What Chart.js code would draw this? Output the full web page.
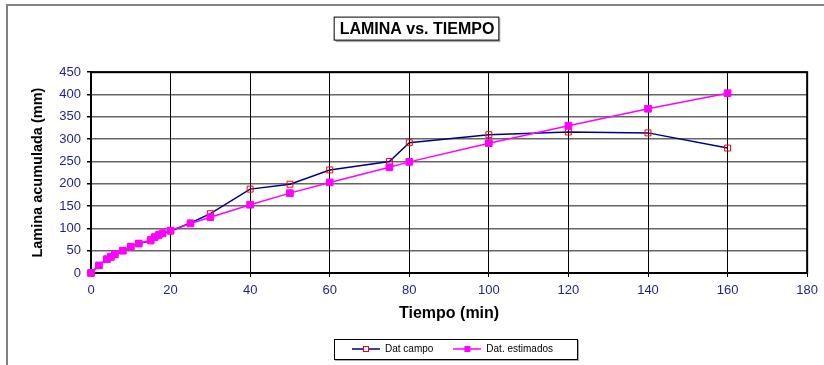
<!DOCTYPE html>
<html>
<head>
<meta charset="utf-8">
<script src="https://cdn.jsdelivr.net/npm/chart.js@4/dist/chart.umd.min.js"></script>
<style>
  html, body { margin: 0; padding: 0; background: #fff; }
  #grafico { display: block; }
</style>
</head>
<body>
<canvas id="grafico" width="824" height="365"></canvas>
<script>
// Datos
const tiempo = [0, 2, 4, 5, 6, 8, 10, 12, 15, 16, 17, 18, 20, 25, 30, 40, 50, 60, 75, 80, 100, 120, 140, 160];
const laminaCampo = [0, 17, 31, 36, 42, 50, 59, 66, 72, 81, 85, 89, 94, 112, 133, 188, 199, 231, 250, 292, 310, 316, 314, 280];
const laminaEstimada = [0, 17, 31, 36, 42, 50, 59, 66, 74, 80, 85, 89, 95, 111, 125, 153, 179, 203, 237, 249, 291, 330, 368, 403];
const ticksX = [0, 20, 40, 60, 80, 100, 120, 140, 160, 180];
const ticksY = [0, 50, 100, 150, 200, 250, 300, 350, 400, 450];

const azul = '#000080';
const rojo = '#ff0000';
const magenta = '#ff00ff';
const textoEje = '#1f1f8c';
const fuente = '"Liberation Sans", Arial, sans-serif';

// desplazamiento de la leyenda respecto al centro
const dxLeyenda = 34;
const dyLeyenda = -1;

// muestra de leyenda: linea con el marcador al centro
function muestraLeyenda(colorLinea, colorBorde, relleno) {
    const c = document.createElement('canvas');
    c.width = 28; c.height = 10;
    const g = c.getContext('2d');
    g.strokeStyle = colorLinea;
    g.lineWidth = 1.5;
    g.beginPath(); g.moveTo(0, 5); g.lineTo(28, 5); g.stroke();
    g.fillStyle = relleno;
    g.fillRect(11, 2, 6, 6);
    g.strokeStyle = colorBorde;
    g.lineWidth = 1;
    g.strokeRect(11.5, 2.5, 5, 5);
    return c;
}

// mueve la leyenda a su sitio
const moverLeyenda = {
    id: 'moverLeyenda',
    afterLayout(chart) {
        const l = chart.legend;
        l.left += dxLeyenda; l.right += dxLeyenda;
        l.top += dyLeyenda; l.bottom += dyLeyenda;
    }
};

// marco del area de trazado, antes de los puntos
const marcoArea = {
    id: 'marcoArea',
    beforeDatasetsDraw(chart) {
        const ctx = chart.ctx;
        const a = chart.chartArea;
        ctx.save();
        ctx.strokeStyle = '#000';
        ctx.lineWidth = 2;
        ctx.strokeRect(a.left, a.top, a.right - a.left, a.bottom - a.top);
        ctx.restore();
    }
};

const marcos = {
    id: 'marcos',
    afterDraw(chart) {
        const ctx = chart.ctx;
        ctx.save();
        // marco exterior gris
        ctx.strokeStyle = '#808080';
        ctx.lineWidth = 2;
        ctx.beginPath();
        ctx.moveTo(7, 370); ctx.lineTo(7, 5); ctx.lineTo(830, 5);
        ctx.stroke();
        // caja del titulo
        const t = chart.titleBlock;
        const texto = chart.options.plugins.title.text;
        ctx.font = 'bold 16px ' + fuente;
        const w = ctx.measureText(texto).width;
        const cx = chart.width / 2 + 5;
        const cy = t.top + t.options.padding.top + 9.6;
        ctx.fillStyle = '#aaa';
        ctx.fillRect(cx - w / 2 - 4, cy - 10.5, w + 10, 24);
        ctx.fillStyle = '#fff';
        ctx.fillRect(cx - w / 2 - 5, cy - 11.5, w + 10, 23);
        ctx.strokeStyle = '#000';
        ctx.lineWidth = 1;
        ctx.strokeRect(cx - w / 2 - 5.5, cy - 11.5, w + 10, 23);
        ctx.fillStyle = '#000';
        ctx.textAlign = 'center';
        ctx.textBaseline = 'middle';
        ctx.fillText(texto, cx, cy + 1);
        // caja de la leyenda (las cajas ya estan en su sitio tras dibujar)
        const cajas = chart.legend.legendHitBoxes || [];
        if (cajas.length) {
            const izq = Math.round(Math.min(...cajas.map(b => b.left)) - 18);
            const der = Math.round(Math.max(...cajas.map(b => b.left + b.width)) + 24);
            const yc = Math.round(cajas[0].top + cajas[0].height / 2);
            const arr = yc - 10;
            const aba = yc + 10;
            ctx.fillStyle = '#aaa';
            ctx.fillRect(izq + 1, arr + 1, der - izq + 1, aba - arr + 1);
            ctx.fillStyle = '#fff';
            ctx.fillRect(izq, arr, der - izq, aba - arr);
            ctx.strokeStyle = '#000';
            ctx.lineWidth = 1;
            ctx.strokeRect(izq + 0.5, arr + 0.5, der - izq, aba - arr);
        }
        ctx.restore();
        // leyenda encima de su caja
        chart.legend.draw();
    }
};

new Chart(document.getElementById('grafico'), {
    type: 'line',
    data: {
        datasets: [
            {
                label: 'Dat campo',
                data: tiempo.map((t, i) => ({ x: t, y: laminaCampo[i] })),
                borderColor: azul,
                borderWidth: 1.5,
                pointStyle: 'rect',
                pointRadius: 4.2,
                pointBackgroundColor: 'rgba(0,0,0,0)',
                pointBorderColor: rojo,
                pointBorderWidth: 1,
                clip: false,
                order: 1
            },
            {
                label: 'Dat. estimados',
                data: tiempo.map((t, i) => ({ x: t, y: laminaEstimada[i] })),
                borderColor: magenta,
                borderWidth: 1.5,
                pointStyle: 'rect',
                pointRadius: 4.7,
                pointBackgroundColor: magenta,
                pointBorderColor: magenta,
                pointBorderWidth: 1,
                clip: false,
                order: 0
            }
        ]
    },
    options: {
        responsive: false,
        animation: false,
        devicePixelRatio: 1,
        layout: { padding: { left: 29, right: 16, top: 7, bottom: 0 } },
        elements: { line: { tension: 0 } },
        scales: {
            x: {
                type: 'linear',
                min: 0, max: 180,
                afterBuildTicks: s => { s.ticks = ticksX.map(v => ({ value: v })); },
                ticks: { color: textoEje, font: { family: fuente, size: 13 }, padding: 6, maxRotation: 0 },
                grid: { color: '#000', borderDash: [1, 2], lineWidth: 1, tickLength: 4, tickColor: '#000', tickBorderDash: [] },
                border: { color: '#000', width: 2 },
                title: { display: true, text: 'Tiempo (min)', color: '#000', font: { family: fuente, size: 16, weight: 'bold' }, padding: { top: 8, bottom: 2 } },
                afterFit: s => { s.height = 52; }
            },
            y: {
                min: 0, max: 450,
                afterBuildTicks: s => { s.ticks = ticksY.map(v => ({ value: v })); },
                ticks: { color: textoEje, font: { family: fuente, size: 13 }, padding: 6 },
                grid: { color: 'rgba(0,0,0,0.6)', borderDash: [1, 1], lineWidth: 1.5, tickLength: 4, tickColor: '#000', tickBorderDash: [] },
                border: { color: '#000', width: 2 },
                title: { display: true, text: 'Lamina acumulada (mm)', color: '#000', font: { family: fuente, size: 14.5, weight: 'bold' }, padding: { top: 0, bottom: 4 } },
                afterFit: s => { s.width = 62; }
            }
        },
        plugins: {
            title: {
                display: true,
                text: 'LAMINA vs. TIEMPO',
                color: 'rgba(0,0,0,0)',
                font: { family: fuente, size: 16, weight: 'bold' },
                padding: { top: 12, bottom: 34 }
            },
            legend: {
                position: 'bottom',
                labels: {
                    font: { family: fuente, size: 10 },
                    color: '#000',
                    usePointStyle: true,
                    pointStyleWidth: 28,
                    padding: 20,
                    generateLabels: () => [
                        { text: 'Dat campo', pointStyle: muestraLeyenda(azul, rojo, '#fff'), datasetIndex: 0, fontColor: '#000', lineWidth: 0, strokeStyle: 'rgba(0,0,0,0)' },
                        { text: 'Dat. estimados', pointStyle: muestraLeyenda(magenta, magenta, magenta), datasetIndex: 1, fontColor: '#000', lineWidth: 0, strokeStyle: 'rgba(0,0,0,0)' }
                    ]
                }
            },
            tooltip: { enabled: false }
        }
    },
    plugins: [moverLeyenda, marcoArea, marcos]
});
</script>
</body>
</html>
